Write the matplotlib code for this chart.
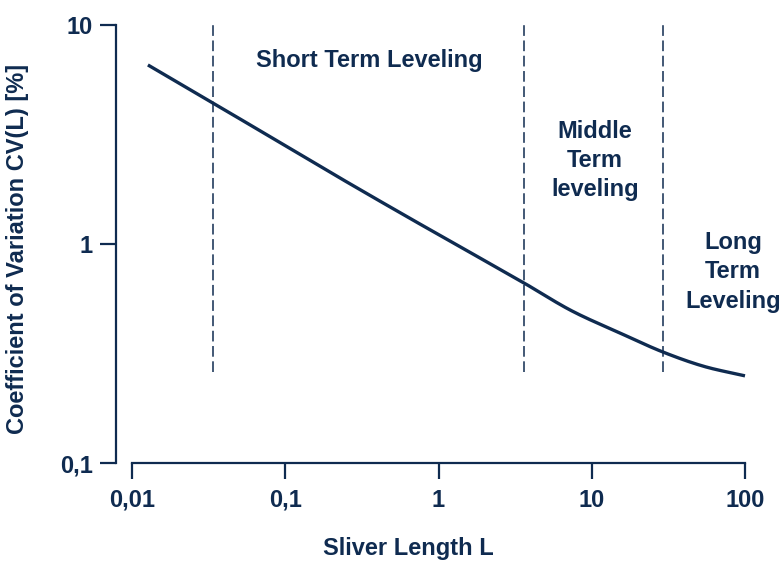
import numpy as np
import matplotlib.pyplot as plt

navy = '#0f2b50'
plt.rcParams['font.family'] = ['Liberation Sans', 'DejaVu Sans']
plt.rcParams['font.weight'] = 'bold'

# curve (sliver length L, CV in %)
length = [0.0127, 0.0338, 0.308, 0.561, 1.87, 3.61, 7.21, 15.3, 29.2, 53.2, 100]
cv = [6.57, 4.40, 1.77, 1.39, 0.862, 0.664, 0.500, 0.392, 0.321, 0.277, 0.250]

# region boundaries
bounds = [0.0338, 3.61, 29.2]
bound_low, bound_high = 0.26, 10

xticks = [0.01, 0.1, 1, 10, 100]
xtick_labels = ['0,01', '0,1', '1', '10', '100']
yticks = [0.1, 1, 10]
ytick_labels = ['0,1', '1', '10']

regions = ['Short Term Leveling', 'Middle\nTerm\nleveling', 'Long\nTerm\nLeveling']
region_x = [0.352, 10.5, 83.6]
region_y = [6.92, 2.40, 0.745]


def smooth_loglog(xs, ys, n=30):
    # cubic hermite through the read points, in log-log space, just for drawing
    lx, ly = np.log10(xs), np.log10(ys)
    m = np.gradient(ly, lx)
    px, py = [], []
    for i in range(len(lx) - 1):
        h = lx[i + 1] - lx[i]
        t = np.linspace(0, 1, n, endpoint=False)
        h00 = 2 * t**3 - 3 * t**2 + 1
        h10 = t**3 - 2 * t**2 + t
        h01 = -2 * t**3 + 3 * t**2
        h11 = t**3 - t**2
        px.append(lx[i] + t * h)
        py.append(h00 * ly[i] + h10 * h * m[i] + h01 * ly[i + 1] + h11 * h * m[i + 1])
    px.append([lx[-1]])
    py.append([ly[-1]])
    return 10 ** np.concatenate(px), 10 ** np.concatenate(py)


fig = plt.figure(figsize=(7.81, 5.62), dpi=100)
ax = fig.add_axes([132 / 781, 1 - 463 / 562, 613 / 781, 438 / 562])
ax.set_xscale('log')
ax.set_yscale('log')
ax.set_xlim(0.01, 100)
ax.set_ylim(0.1, 10)

sx, sy = smooth_loglog(length, cv)
ax.plot(sx, sy, color=navy, lw=2.4, solid_capstyle='butt', clip_on=False)
for b in bounds:
    ax.plot([b, b], [bound_low, bound_high], color=navy, lw=1.1,
            dashes=(7, 3), clip_on=False)

for txt, x, y in zip(regions, region_x, region_y):
    ax.text(x, y, txt, ha='center', va='center', fontsize=17, color=navy,
            fontweight='bold', linespacing=1.34, clip_on=False)

ax.spines['top'].set_visible(False)
ax.spines['right'].set_visible(False)
ax.spines['left'].set_position(('outward', 11.5))
for s in ['left', 'bottom']:
    ax.spines[s].set_color(navy)
    ax.spines[s].set_linewidth(1.6)

ax.set_xticks(xticks)
ax.set_xticklabels(xtick_labels)
ax.set_yticks(yticks)
ax.set_yticklabels(ytick_labels)
ax.minorticks_off()
ax.tick_params(axis='both', direction='out', length=11.5, width=1.6,
               color=navy, labelcolor=navy, labelsize=17)
ax.tick_params(axis='x', pad=7)
ax.tick_params(axis='y', pad=5)

fig.text(408 / 781, 1 - 549 / 562, 'Sliver Length L', ha='center', va='center',
         fontsize=17, color=navy, fontweight='bold')
fig.text(18 / 781, 1 - 249 / 562, 'Coefficient of Variation CV(L) [%]',
         ha='center', va='center', rotation=90, fontsize=17, color=navy,
         fontweight='bold')

fig.savefig('out.png', dpi=100)
